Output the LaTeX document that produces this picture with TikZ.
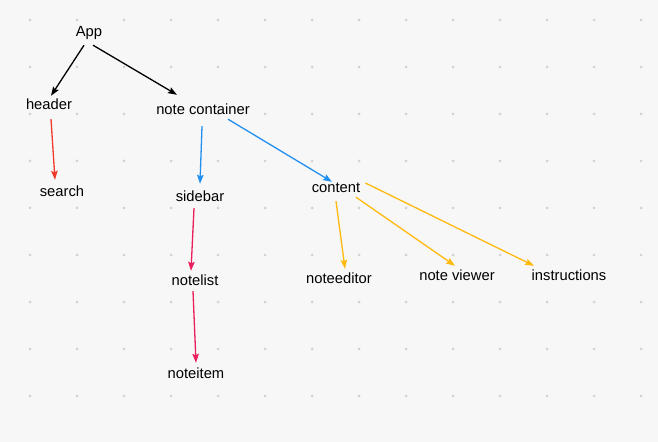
\documentclass[tikz,border=0pt]{standalone}
\usepackage{fontspec}
\setmainfont{Liberation Sans}
\usetikzlibrary{arrows.meta}

\definecolor{bgc}{HTML}{F7F7F7}
\definecolor{dotc}{HTML}{D2D2D2}
\definecolor{redc}{HTML}{F0392B}
\definecolor{pinkc}{HTML}{E91E5A}
\definecolor{bluec}{HTML}{2190F0}
\definecolor{ambc}{HTML}{FFB90F}

\tikzset{
  lbl/.style={inner sep=2bp, text height=13bp, text depth=1bp, font=\fontsize{14.8}{17}\selectfont},
  arr/.style={-{Stealth[length=9bp,width=6.5bp,inset=1.5bp]}, line width=1.3bp}
}

\begin{document}
\begin{tikzpicture}[x=1bp,y=-1bp]
\fill[bgc] (0,0) rectangle (658,442);
\useasboundingbox (0,0) rectangle (658,442);

% grid of dots
\foreach \i in {0,...,13}
  \foreach \j in {0,...,8}
    \fill[dotc] (30+47*\i,20+47*\j) circle (1.5bp);

\node[lbl] (app) at (89,31) {App};
\node[lbl] (header) at (49,104) {header};
\node[lbl] (container) at (203,109) {note container};
\node[lbl] (search) at (62,191) {search};
\node[lbl] (sidebar) at (200,196) {sidebar};
\node[lbl] (content) at (336,187) {content};
\node[lbl] (notelist) at (195,280) {notelist};
\node[lbl] (noteitem) at (196,372) {noteitem};
\node[lbl] (noteeditor) at (339,278) {noteeditor};
\node[lbl] (noteviewer) at (457,275) {note viewer};
\node[lbl] (instructions) at (569,275) {instructions};

\draw[arr] ([shift={(-5,5)}]app.south) -- ([shift={(2,1)}]header.north);
\draw[arr] ([shift={(4,5)}]app.south) -- ([shift={(-26,-5)}]container.north);

\draw[arr,redc] ([shift={(2,6)}]header.south) -- ([shift={(-7,-2)}]search.north);

\draw[arr,bluec] ([shift={(-1,8)}]container.south) -- ([shift={(0,-3)}]sidebar.north);
\draw[arr,bluec] ([shift={(25,1)}]container.south) -- ([shift={(-4,4)}]content.north);

\draw[arr,pinkc] ([shift={(-6,3)}]sidebar.south) -- ([shift={(-4,0)}]notelist.north);
\draw[arr,pinkc] ([shift={(-2,2)}]notelist.south) -- (noteitem.north);

\draw[arr,ambc] ([shift={(0,5)}]content.south) -- ([shift={(6,0)}]noteeditor.north);
\draw[arr,ambc] ([shift={(20,1)}]content.south) -- ([shift={(-2,0)}]noteviewer.north);
\draw[arr,ambc] ([shift={(3,-4)}]content.east) -- ([shift={(-35,0)}]instructions.north);

\end{tikzpicture}
\end{document}
